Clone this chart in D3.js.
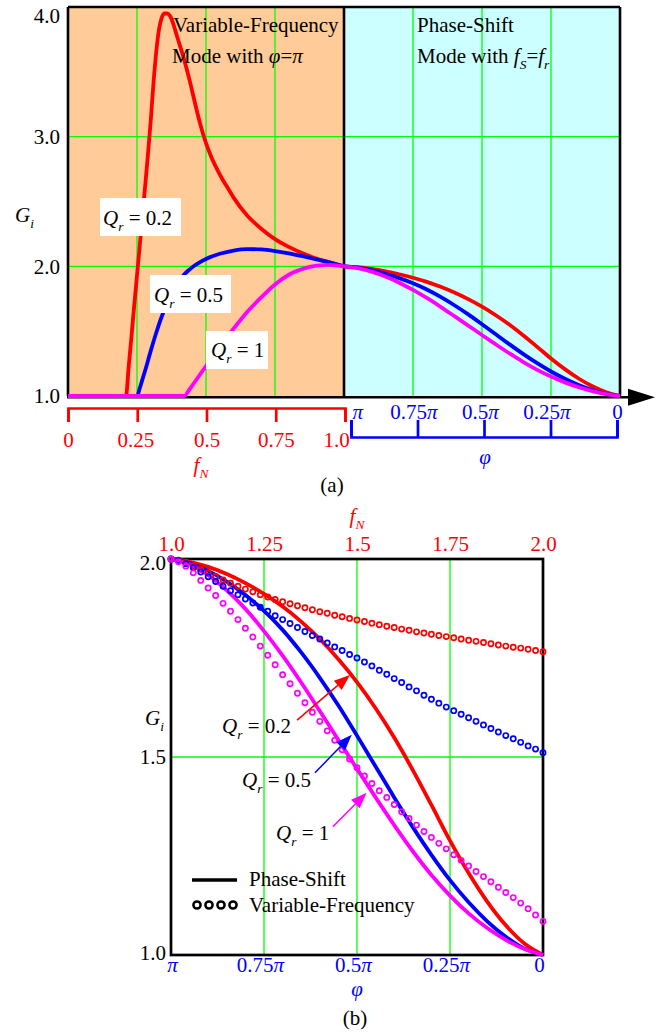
<!DOCTYPE html>
<html>
<head>
<meta charset="utf-8">
<script src="https://cdn.jsdelivr.net/npm/d3@7"></script>
<style>
  body { margin: 0; background: #fff; }
  svg text { font-family: "Liberation Serif", "Times New Roman", serif; white-space: pre; }
</style>
</head>
<body>
<svg id="fig" width="669" height="1036"></svg>
<script>
// ---------- (a) variable-frequency mode, f_N from 0 to 1 (phi = pi) ----------
const vfQ02_fN = [0, 0.21, 0.22, 0.23, 0.24, 0.25, 0.26, 0.27, 0.28, 0.29, 0.30, 0.31, 0.32, 0.33, 0.34, 0.35, 0.36, 0.37, 0.38, 0.39, 0.40, 0.42, 0.44, 0.46, 0.48, 0.50, 0.52, 0.54, 0.56, 0.58, 0.60, 0.65, 0.70, 0.75, 0.80, 0.85, 0.90, 0.95, 1.00];
const vfQ02_G  = [1.00, 1.00, 1.23, 1.46, 1.70, 1.93, 2.16, 2.40, 2.63, 2.87, 3.13, 3.42, 3.66, 3.83, 3.92, 3.95, 3.95, 3.93, 3.88, 3.81, 3.74, 3.60, 3.44, 3.26, 3.09, 2.95, 2.84, 2.75, 2.67, 2.60, 2.53, 2.39, 2.29, 2.21, 2.15, 2.10, 2.06, 2.03, 2.00];

const vfQ05_fN = [0, 0.25, 0.26, 0.27, 0.28, 0.30, 0.32, 0.34, 0.36, 0.38, 0.40, 0.42, 0.44, 0.46, 0.48, 0.50, 0.55, 0.60, 0.65, 0.70, 0.75, 0.80, 0.85, 0.90, 0.95, 1.00];
const vfQ05_G  = [1.00, 1.00, 1.06, 1.13, 1.20, 1.35, 1.49, 1.615, 1.72, 1.81, 1.88, 1.935, 1.975, 2.008, 2.035, 2.057, 2.097, 2.122, 2.133, 2.13, 2.118, 2.10, 2.078, 2.054, 2.028, 2.00];

const vfQ1_fN  = [0, 0.42, 0.44, 0.46, 0.48, 0.50, 0.52, 0.54, 0.56, 0.58, 0.60, 0.65, 0.70, 0.75, 0.80, 0.85, 0.90, 0.95, 1.00];
const vfQ1_G   = [1.00, 1.00, 1.05, 1.11, 1.17, 1.23, 1.29, 1.35, 1.41, 1.465, 1.52, 1.65, 1.76, 1.86, 1.935, 1.98, 2.005, 2.012, 2.00];

// ---------- phase-shift mode (f_S = f_r), phase phi given as a fraction of pi ----------
const phiFrac = [1, 0.95, 0.90, 0.85, 0.80, 0.75, 0.70, 0.65, 0.60, 0.55, 0.50, 0.45, 0.40, 0.35, 0.30, 0.25, 0.20, 0.15, 0.10, 0.05, 0];
const psQ02_G = [2.000, 1.993, 1.980, 1.962, 1.939, 1.912, 1.880, 1.842, 1.798, 1.747, 1.689, 1.623, 1.549, 1.467, 1.379, 1.289, 1.207, 1.135, 1.075, 1.029, 1.000];
const psQ05_G = [2.000, 1.990, 1.970, 1.943, 1.909, 1.869, 1.821, 1.764, 1.700, 1.630, 1.554, 1.476, 1.398, 1.323, 1.253, 1.189, 1.133, 1.085, 1.046, 1.016, 1.000];
const psQ1_G  = [2.000, 1.986, 1.959, 1.921, 1.874, 1.818, 1.756, 1.688, 1.616, 1.543, 1.470, 1.398, 1.328, 1.262, 1.202, 1.150, 1.105, 1.068, 1.038, 1.015, 1.000];

// ---------- (b) variable-frequency mode above resonance, f_N from 1 to 2 ----------
const vfHigh_fN = [1.00, 1.02, 1.04, 1.06, 1.08, 1.10, 1.12, 1.14, 1.16, 1.18, 1.20, 1.22, 1.24, 1.26, 1.28, 1.30, 1.32, 1.34, 1.36, 1.38, 1.40, 1.42, 1.44, 1.46, 1.48, 1.50, 1.52, 1.54, 1.56, 1.58, 1.60, 1.62, 1.64, 1.66, 1.68, 1.70, 1.72, 1.74, 1.76, 1.78, 1.80, 1.82, 1.84, 1.86, 1.88, 1.90, 1.92, 1.94, 1.96, 1.98, 2.00];
const vfHighQ02_G = [2.000, 1.997, 1.991, 1.983, 1.974, 1.965, 1.956, 1.947, 1.939, 1.931, 1.924, 1.917, 1.910, 1.904, 1.898, 1.892, 1.887, 1.882, 1.877, 1.872, 1.867, 1.863, 1.858, 1.854, 1.850, 1.846, 1.842, 1.838, 1.834, 1.830, 1.827, 1.823, 1.820, 1.816, 1.813, 1.810, 1.807, 1.804, 1.801, 1.798, 1.795, 1.792, 1.789, 1.786, 1.783, 1.780, 1.777, 1.775, 1.772, 1.769, 1.766];
const vfHighQ05_G = [2.000, 1.996, 1.988, 1.978, 1.967, 1.955, 1.943, 1.931, 1.920, 1.910, 1.899, 1.889, 1.878, 1.868, 1.857, 1.847, 1.837, 1.827, 1.817, 1.807, 1.798, 1.788, 1.778, 1.769, 1.759, 1.750, 1.740, 1.730, 1.719, 1.709, 1.698, 1.688, 1.677, 1.667, 1.656, 1.646, 1.636, 1.626, 1.617, 1.608, 1.599, 1.590, 1.581, 1.572, 1.563, 1.554, 1.546, 1.537, 1.528, 1.520, 1.511];
const vfHighQ1_G  = [2.000, 1.993, 1.982, 1.965, 1.946, 1.927, 1.908, 1.888, 1.868, 1.847, 1.825, 1.803, 1.780, 1.757, 1.733, 1.708, 1.685, 1.661, 1.637, 1.613, 1.590, 1.566, 1.542, 1.518, 1.495, 1.473, 1.452, 1.433, 1.415, 1.398, 1.380, 1.362, 1.345, 1.328, 1.312, 1.297, 1.282, 1.268, 1.253, 1.239, 1.225, 1.211, 1.198, 1.185, 1.171, 1.158, 1.145, 1.131, 1.117, 1.101, 1.085];

// ---------- ticks ----------
const gTicksA = [1, 2, 3, 4];
const fTicksA = [0, 0.25, 0.5, 0.75, 1];
const fTickLabelsA = ['0', '0.25', '0.5', '0.75', '1.0'];
const phiTicks = [1, 0.75, 0.5, 0.25, 0];
const phiTickLabels = ['π', '0.75π', '0.5π', '0.25π', '0'];
const gTicksB = [1, 1.5, 2];
const fTicksB = [1, 1.25, 1.5, 1.75, 2];
const fTickLabelsB = ['1.0', '1.25', '1.5', '1.75', '2.0'];
const qLabels = ['0.2', '0.5', '1'];

const RED = '#ff0000', BLUE = '#0000ff', MAG = '#ff00ff', GRID = '#00ff00';
const FS = 21;
const seriesColors = [RED, BLUE, MAG];

const svg = d3.select('#fig');

// writes text made of runs: {t, i: italic, sub: subscript}
function rich(sel, parts, size) {
  parts.forEach((p, k) => {
    const ts = sel.append('tspan').text(p.t);
    if (p.i) ts.attr('font-style', 'italic');
    if (p.sub) ts.attr('font-size', size * 0.64).attr('dy', size * 0.27);
    else if (k > 0 && parts[k - 1].sub) ts.attr('dy', -size * 0.27);
  });
  return sel;
}
function label(parent, x, y, parts, opts = {}) {
  const t = parent.append('text').attr('x', x).attr('y', y)
    .attr('font-size', FS).attr('fill', opts.fill || '#000')
    .attr('text-anchor', opts.anchor || 'start');
  return rich(t, parts, FS);
}
function phiParts(s) {
  if (s.endsWith('π')) return s.length === 1 ? [{ t: 'π', i: true }] : [{ t: s.slice(0, -1) }, { t: 'π', i: true }];
  return [{ t: s }];
}
const qParts = v => [{ t: 'Q', i: true }, { t: 'r', i: true, sub: true }, { t: ' = ' + v }];
function styleAxisText(g) {
  g.attr('font-family', null).attr('font-size', FS);
}

// =================== (a) ===================
const xF = d3.scaleLinear().domain([0, 1]).range([68, 344]);
const xP = d3.scaleLinear().domain([1, 0]).range([344, 620]);
const yA = d3.scaleLinear().domain([1, 4]).range([396, 7]);
const gA = svg.append('g');

gA.append('rect').attr('x', xF(0)).attr('y', yA(4))
  .attr('width', xF(1) - xF(0)).attr('height', yA(1) - yA(4)).attr('fill', '#ffcc99');
gA.append('rect').attr('x', xP(1)).attr('y', yA(4))
  .attr('width', xP(0) - xP(1)).attr('height', yA(1) - yA(4)).attr('fill', '#ccffff');

// grid
gA.selectAll('.gvf').data(fTicksA.slice(1, -1)).join('line')
  .attr('x1', d => xF(d)).attr('x2', d => xF(d)).attr('y1', yA(4)).attr('y2', yA(1))
  .attr('stroke', GRID).attr('stroke-width', 1.3);
gA.selectAll('.gvp').data(phiTicks.slice(1, -1)).join('line')
  .attr('x1', d => xP(d)).attr('x2', d => xP(d)).attr('y1', yA(4)).attr('y2', yA(1))
  .attr('stroke', GRID).attr('stroke-width', 1.3);
gA.selectAll('.gh').data(gTicksA.slice(1, -1)).join('line')
  .attr('x1', xF(0)).attr('x2', xP(0)).attr('y1', d => yA(d)).attr('y2', d => yA(d))
  .attr('stroke', GRID).attr('stroke-width', 1.3);

// frame (bottom edge is the arrowed axis)
const frameA = gA.append('g').attr('stroke', '#000').attr('stroke-width', 2.6);
frameA.append('line').attr('x1', xF(0)).attr('x2', xP(0)).attr('y1', yA(4)).attr('y2', yA(4));
frameA.append('line').attr('x1', xF(0)).attr('x2', xF(0)).attr('y1', yA(4)).attr('y2', yA(1));
frameA.append('line').attr('x1', xP(0)).attr('x2', xP(0)).attr('y1', yA(4)).attr('y2', yA(1));
frameA.append('line').attr('x1', xF(1)).attr('x2', xF(1)).attr('y1', yA(4)).attr('y2', yA(1));

// horizontal axis with arrow
const axY = yA(1) + 1.3;
gA.append('line').attr('x1', xF(0) - 1).attr('x2', 632).attr('y1', axY).attr('y2', axY)
  .attr('stroke', '#000').attr('stroke-width', 2.6);
gA.append('path').attr('d', `M628,${axY - 8.5}L655,${axY}L628,${axY + 8.5}Z`).attr('fill', '#000');

// curves
const lineF = d3.line().x(d => xF(d[0])).y(d => yA(d[1])).curve(d3.curveMonotoneX);
const lineP = d3.line().x(d => xP(d[0])).y(d => yA(d[1])).curve(d3.curveMonotoneX);
const vfLow = [[vfQ02_fN, vfQ02_G], [vfQ05_fN, vfQ05_G], [vfQ1_fN, vfQ1_G]];
const psAll = [psQ02_G, psQ05_G, psQ1_G];
vfLow.forEach(([fx, gy], k) => {
  gA.append('path').datum(d3.zip(fx, gy)).attr('d', lineF)
    .attr('fill', 'none').attr('stroke', seriesColors[k]).attr('stroke-width', 3.8);
});
psAll.forEach((gy, k) => {
  gA.append('path').datum(d3.zip(phiFrac, gy)).attr('d', lineP)
    .attr('fill', 'none').attr('stroke', seriesColors[k]).attr('stroke-width', 3.8);
});

// left axis labels
const axLA = gA.append('g').attr('transform', `translate(${xF(0)},0)`)
  .call(d3.axisLeft(yA).tickValues(gTicksA).tickSize(0).tickPadding(8).tickFormat(d3.format('.1f')));
axLA.select('.domain').remove();
styleAxisText(axLA);
axLA.selectAll('.tick text').filter(d => d === 4).attr('dy', '0.72em');
label(gA, 15, 222, [{ t: 'G', i: true }, { t: 'i', i: true, sub: true }]);

// f_N bracket axis
const xFax = d3.scaleLinear().domain([0, 1]).range([68, 345]);
const axF = gA.append('g').attr('transform', 'translate(0,408)')
  .call(d3.axisBottom(xFax).tickValues(fTicksA).tickSize(14).tickSizeOuter(14).tickPadding(10)
    .tickFormat((d, i) => fTickLabelsA[i]));
styleAxisText(axF);
axF.select('.domain').attr('stroke', RED).attr('stroke-width', 2.7);
axF.selectAll('.tick line').attr('stroke', RED).attr('stroke-width', 2.7);
axF.selectAll('.tick text').attr('fill', RED);
axF.selectAll('.tick text').filter(d => d === 1).attr('dx', -9);
axF.selectAll('.tick text').filter(d => d === 0.25).attr('dx', -2);
label(gA, 201, 472, [{ t: 'f', i: true }, { t: 'N', i: true, sub: true }], { fill: RED, anchor: 'middle' });

// phi bracket axis
const xPax = d3.scaleLinear().domain([1, 0]).range([351, 617]);
const axP = gA.append('g').attr('transform', 'translate(0,437)')
  .call(d3.axisTop(xPax).tickValues(phiTicks).tickSize(17).tickSizeOuter(17).tickPadding(1)
    .tickFormat(() => ''));
styleAxisText(axP);
axP.select('.domain').attr('stroke', BLUE).attr('stroke-width', 2.7);
axP.selectAll('.tick line').attr('stroke', BLUE).attr('stroke-width', 2.7);
axP.selectAll('.tick text').attr('fill', BLUE).each(function (d, i) {
  const t = d3.select(this);
  rich(t, phiParts(phiTickLabels[i]), FS);
  if (i === 0) t.attr('text-anchor', 'start').attr('dx', 1);
  else if (i < phiTicks.length - 1) t.attr('dx', -4);
});
label(gA, 485, 464, [{ t: 'φ', i: true }], { fill: BLUE, anchor: 'middle' });

// mode captions
label(gA, 173, 32, [{ t: 'Variable-Frequency' }]);
label(gA, 172, 63, [{ t: 'Mode with ' }, { t: 'φ', i: true }, { t: '=' }, { t: 'π', i: true }]);
label(gA, 417, 32, [{ t: 'Phase-Shift' }]);
label(gA, 417, 63, [{ t: 'Mode with ' }, { t: 'f', i: true }, { t: 'S', i: true, sub: true }, { t: '=' }, { t: 'f', i: true }, { t: 'r', i: true, sub: true }]);

// Q_r tags on white boxes
const tagsA = [
  { box: [100, 198, 81, 38], tx: 103, ty: 225 },
  { box: [150, 275, 81, 38], tx: 154, ty: 302 },
  { box: [206, 331, 62, 38], tx: 211, ty: 357 }
];
tagsA.forEach((t, k) => {
  gA.append('rect').attr('x', t.box[0]).attr('y', t.box[1]).attr('width', t.box[2]).attr('height', t.box[3]).attr('fill', '#fff');
  label(gA, t.tx, t.ty, qParts(qLabels[k]));
});
label(gA, 332, 492, [{ t: '(a)' }], { anchor: 'middle' });

// =================== (b) ===================
const xB = d3.scaleLinear().domain([1, 2]).range([171, 543]);
const xBp = d3.scaleLinear().domain([1, 0]).range([171, 543]);
const yB = d3.scaleLinear().domain([1, 2]).range([955, 559]);
const gB = svg.append('g');

gB.selectAll('.gv').data(fTicksB.slice(1, -1)).join('line')
  .attr('x1', d => xB(d)).attr('x2', d => xB(d)).attr('y1', yB(2)).attr('y2', yB(1))
  .attr('stroke', GRID).attr('stroke-width', 1.3);
gB.selectAll('.gh').data(gTicksB.slice(1, -1)).join('line')
  .attr('x1', xB(1)).attr('x2', xB(2)).attr('y1', d => yB(d)).attr('y2', d => yB(d))
  .attr('stroke', GRID).attr('stroke-width', 1.3);
gB.append('rect').attr('x', xB(1)).attr('y', yB(2)).attr('width', xB(2) - xB(1)).attr('height', yB(1) - yB(2))
  .attr('fill', 'none').attr('stroke', '#000').attr('stroke-width', 2.7);

const lineBp = d3.line().x(d => xBp(d[0])).y(d => yB(d[1])).curve(d3.curveMonotoneX);
psAll.forEach((gy, k) => {
  gB.append('path').datum(d3.zip(phiFrac, gy)).attr('d', lineBp)
    .attr('fill', 'none').attr('stroke', seriesColors[k]).attr('stroke-width', 3.8);
});
const vfHigh = [vfHighQ02_G, vfHighQ05_G, vfHighQ1_G];
vfHigh.forEach((gy, k) => {
  gB.append('g').selectAll('circle').data(d3.zip(vfHigh_fN, gy)).join('circle')
    .attr('cx', d => xB(d[0])).attr('cy', d => yB(d[1])).attr('r', 2.6)
    .attr('fill', 'none').attr('stroke', seriesColors[k]).attr('stroke-width', 1.7);
});

// axes of (b)
const axLB = gB.append('g').attr('transform', `translate(${xB(1)},0)`)
  .call(d3.axisLeft(yB).tickValues(gTicksB).tickSize(0).tickPadding(5).tickFormat(d3.format('.1f')));
axLB.select('.domain').remove();
styleAxisText(axLB);
axLB.selectAll('.tick text').filter(d => d === 2).attr('dy', '0.5em');
axLB.selectAll('.tick text').filter(d => d === 1).attr('dy', '0.2em');
label(gB, 145, 725, [{ t: 'G', i: true }, { t: 'i', i: true, sub: true }]);

const axTB = gB.append('g').attr('transform', `translate(0,${yB(2)})`)
  .call(d3.axisTop(xB).tickValues(fTicksB).tickSize(0).tickPadding(8).tickFormat((d, i) => fTickLabelsB[i]));
axTB.select('.domain').remove();
styleAxisText(axTB);
axTB.selectAll('.tick text').attr('fill', RED);
label(gB, 357, 523, [{ t: 'f', i: true }, { t: 'N', i: true, sub: true }], { fill: RED, anchor: 'middle' });

const axBB = gB.append('g').attr('transform', `translate(0,${yB(1)})`)
  .call(d3.axisBottom(xBp).tickValues(phiTicks).tickSize(0).tickPadding(2).tickFormat(() => ''));
axBB.select('.domain').remove();
styleAxisText(axBB);
axBB.selectAll('.tick text').attr('fill', BLUE).each(function (d, i) {
  const t = d3.select(this);
  rich(t, phiParts(phiTickLabels[i]), FS);
  t.attr('dx', i === 0 ? 1 : -4);
});
label(gB, 357, 996, [{ t: 'φ', i: true }], { fill: BLUE, anchor: 'middle' });

// arrows pointing at the phase-shift curves: [phi/pi, G] -> [phi/pi, G]
const arrowsB = [
  { from: [0.661, 1.593], to: [0.519, 1.707], label: [222, 733] },
  { from: [0.613, 1.460], to: [0.514, 1.556], label: [242, 787] },
  { from: [0.565, 1.324], to: [0.474, 1.410], label: [276, 840] }
];
arrowsB.forEach((a, k) => {
  const x1 = xBp(a.from[0]), y1 = yB(a.from[1]), x2 = xBp(a.to[0]), y2 = yB(a.to[1]);
  const ang = Math.atan2(y2 - y1, x2 - x1), L = 16, W = 6;
  const bx = x2 - L * Math.cos(ang), by = y2 - L * Math.sin(ang);
  gB.append('line').attr('x1', x1).attr('y1', y1).attr('x2', bx).attr('y2', by)
    .attr('stroke', seriesColors[k]).attr('stroke-width', 1.5);
  gB.append('path')
    .attr('d', `M${x2},${y2}L${bx + W * Math.sin(ang)},${by - W * Math.cos(ang)}L${bx - W * Math.sin(ang)},${by + W * Math.cos(ang)}Z`)
    .attr('fill', seriesColors[k]);
  label(gB, a.label[0], a.label[1], qParts(qLabels[k]));
});

// legend
gB.append('line').attr('x1', 192).attr('x2', 237).attr('y1', 880).attr('y2', 880)
  .attr('stroke', '#000').attr('stroke-width', 3.3);
label(gB, 249, 886, [{ t: 'Phase-Shift' }]);
gB.selectAll('.lgc').data([0, 1, 2, 3]).join('circle')
  .attr('cx', d => 197 + d * 12).attr('cy', 905).attr('r', 3.6)
  .attr('fill', 'none').attr('stroke', '#000').attr('stroke-width', 2.5);
label(gB, 249, 912, [{ t: 'Variable-Frequency' }]);

label(gB, 355, 1025, [{ t: '(b)' }], { anchor: 'middle' });
</script>
</body>
</html>
